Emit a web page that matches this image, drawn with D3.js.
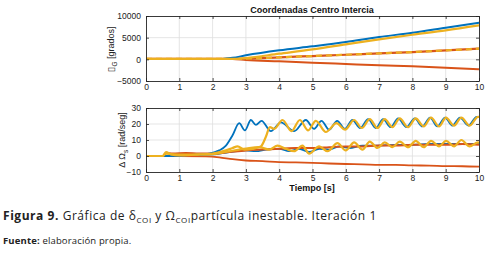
<!DOCTYPE html>
<html>
<head>
<meta charset="utf-8">
<script src="https://cdn.jsdelivr.net/npm/d3@7"></script>
<style>
  body { margin: 0; background: #fff; }
  svg { display: block; }
  .tick text { font-family: "Liberation Sans", Arial, sans-serif; font-size: 8.5px; fill: #222; }
</style>
</head>
<body>
<svg id="chart" width="491" height="265"></svg>
<script>
// time ticks shared by both panels
const timeTicks = [0, 1, 2, 3, 4, 5, 6, 7, 8, 9, 10];
const deltaTicks = [-5000, 0, 5000, 10000];
const omegaTicks = [-10, 0, 10, 20, 30];

// top panel: delta [grados], pairs of [t, value]
const deltaBlue = [[0, 100], [2.3, 100], [2.6, 350], [3, 920], [4, 2080], [5, 3000], [6, 3990], [7, 5150], [8, 6140], [9, 7300], [10, 8450]];
const deltaYellow = [[0, 100], [2.5, 100], [3, 300], [4, 1300], [5, 2300], [6, 3460], [7, 4610], [8, 5680], [9, 6690], [10, 7850]];
const deltaOrangeMid = [[0, 100], [2.6, 100], [3, 150], [4, 460], [5, 760], [6, 1060], [7, 1380], [8, 1680], [9, 2080], [10, 2450]];
const deltaRed = [[0, 100], [2.6, 100], [3, -160], [4, -460], [5, -780], [6, -1080], [7, -1380], [8, -1620], [9, -1940], [10, -2310]];

// bottom panel: delta omega [rad/seg]
const omegaBlueBig = [[0, 0], [0.5, 0], [1, 0.3], [1.5, 0.8], [1.9, 1.5], [2.2, 3.5], [2.4, 6.5], [2.6, 13], [2.8, 20.5], [2.97, 16], [3.15, 22.5], [3.3, 19.5], [3.47, 22], [3.75, 15.5], [4.05, 21], [4.45, 15.5], [4.8, 22.5], [5.05, 17], [5.27, 22], [5.5, 16.5], [5.74, 22], [5.97, 17], [6.2, 22.5], [6.43, 17.5], [6.67, 23], [6.9, 17.5], [7.12, 23], [7.35, 18], [7.57, 23.5], [7.82, 18], [8.07, 23.5], [8.3, 18.5], [8.53, 24], [8.75, 18.5], [8.98, 24], [9.2, 19], [9.43, 24], [9.68, 19], [9.93, 24.5], [10, 24.5]];
const omegaYellowBig = [[0, 0], [0.5, 0], [0.6, 2.5], [0.75, 1], [1, 0.3], [1.5, 0.8], [2, 1.5], [2.4, 3.5], [2.6, 5], [2.75, 6], [2.95, 4], [3.2, 4.5], [3.45, 6], [3.6, 12], [3.72, 18], [3.85, 17], [4.1, 22.5], [4.37, 15.5], [4.62, 22.5], [4.87, 16], [5.1, 22], [5.4, 15], [5.72, 20.5], [5.98, 16.5], [6.25, 22.5], [6.48, 17.5], [6.72, 23], [6.95, 17.5], [7.17, 23], [7.4, 18], [7.62, 23.5], [7.87, 18], [8.1, 23.5], [8.34, 18.5], [8.56, 24], [8.8, 18.5], [9.01, 24], [9.25, 19], [9.47, 24], [9.72, 19], [9.97, 24.5], [10, 24.5]];
const omegaBlueMid = [[0, 0], [0.5, 0], [1, 0.3], [1.5, 0.7], [2, 1], [2.5, 2.5], [3, 3.5], [3.3, 3], [3.6, 4], [4, 4.5], [4.3, 3], [4.6, 4.5], [4.9, 2.5], [5.2, 4.5], [5.5, 4], [5.8, 6], [6.1, 5], [6.5, 6.5], [7, 6.5], [7.5, 7], [8, 7], [8.5, 7.5], [9, 7.5], [9.5, 7.5], [10, 7.5]];
const omegaOrangeMid = [[0, 0], [0.55, 0], [0.6, 2], [0.8, 1.5], [1.2, 1.8], [1.6, 1.5], [2, 1.5], [2.5, 2.5], [3, 3.5], [3.5, 4], [4, 4.5], [4.5, 5], [5, 5], [5.5, 5.5], [6, 6], [6.5, 6], [7, 6.5], [7.5, 6.5], [8, 7], [8.5, 7], [9, 7], [9.5, 7.5], [10, 7]];
const omegaYellowMid = [[0, 0], [0.5, 0], [0.6, 1.5], [0.8, 1], [1.2, 0.8], [1.6, 1], [2, 1.2], [2.4, 2.5], [2.8, 4], [3.1, 5], [3.4, 5.5], [3.7, 4], [3.95, 6.5], [4.2, 4.5], [4.45, 3], [4.7, 6.5], [4.9, 1.5], [5.2, 6], [5.45, 3], [5.75, 8], [6, 3.5], [6.25, 8.5], [6.5, 4], [6.72, 9], [6.95, 5], [7.17, 8.5], [7.4, 5.5], [7.62, 9], [7.87, 5.5], [8.1, 9.5], [8.34, 5.5], [8.56, 9.5], [8.8, 6], [9.01, 9.5], [9.25, 6], [9.47, 10], [9.72, 6], [9.97, 8.5], [10, 8]];
const omegaRed = [[0, 0], [1, 0], [1.8, -0.2], [2.2, -0.8], [2.6, -2], [3, -2.8], [3.5, -3.2], [4, -3.8], [4.5, -4], [5, -4.3], [5.5, -4.7], [6, -5], [6.5, -5.2], [7, -5.5], [7.5, -5.6], [8, -5.9], [8.5, -6], [9, -6.3], [9.5, -6.4], [10, -6.7]];

const BLUE = "#0072BD", ORANGE = "#D95319", YELLOW = "#EDB120";
const FONT = "'Liberation Sans', Arial, sans-serif";

const svg = d3.select("#chart");
const left = 146, right = 479;

const x = d3.scaleLinear().domain([0, 10]).range([left, right]);

function panel(top, bottom, domain, yTicks, series) {
  const y = d3.scaleLinear().domain(domain).range([bottom, top]);
  const g = svg.append("g");

  // grid
  g.append("g").selectAll("line").data(timeTicks.slice(1, -1)).join("line")
    .attr("x1", (d) => x(d)).attr("x2", (d) => x(d))
    .attr("y1", top).attr("y2", bottom)
    .attr("stroke", "#dedede").attr("stroke-width", 0.8);
  g.append("g").selectAll("line").data(yTicks.slice(1, -1)).join("line")
    .attr("x1", left).attr("x2", right)
    .attr("y1", (d) => y(d)).attr("y2", (d) => y(d))
    .attr("stroke", "#dedede").attr("stroke-width", 0.8);

  // lines
  const line = d3.line().x((d) => x(d[0])).y((d) => y(d[1])).curve(d3.curveMonotoneX);
  series.forEach((s) => {
    g.append("path").datum(s.data)
      .attr("fill", "none")
      .attr("stroke", s.color)
      .attr("stroke-width", s.width)
      .attr("stroke-dasharray", s.dash || null)
      .attr("stroke-linejoin", "round")
      .attr("d", line);
  });

  // axes, ticks inward on all four sides
  g.append("g").attr("transform", `translate(0,${bottom})`)
    .call(d3.axisBottom(x).tickValues(timeTicks).tickSizeInner(-3).tickSizeOuter(0).tickPadding(3));
  g.append("g").attr("transform", `translate(0,${top})`)
    .call(d3.axisTop(x).tickValues(timeTicks).tickSizeInner(-3).tickSizeOuter(0).tickFormat(""));
  g.append("g").attr("transform", `translate(${left},0)`)
    .call(d3.axisLeft(y).tickValues(yTicks).tickFormat(d3.format("d"))
      .tickSizeInner(-3).tickSizeOuter(0).tickPadding(5));
  g.append("g").attr("transform", `translate(${right},0)`)
    .call(d3.axisRight(y).tickValues(yTicks).tickSizeInner(-3).tickSizeOuter(0).tickFormat(""));
  g.selectAll(".domain").attr("stroke", "#222").attr("stroke-width", 0.9);
  g.selectAll(".tick line").attr("stroke", "#222").attr("stroke-width", 0.8);
  return y;
}

panel(16, 81, [-5000, 10000], deltaTicks, [
  { data: deltaRed, color: ORANGE, width: 2 },
  { data: deltaOrangeMid, color: ORANGE, width: 2.2 },
  { data: deltaOrangeMid, color: YELLOW, width: 2.2, dash: "6 4" },
  { data: deltaBlue, color: BLUE, width: 2 },
  { data: deltaYellow, color: YELLOW, width: 2.2 }
]);

panel(108, 172, [-10, 30], omegaTicks, [
  { data: omegaRed, color: ORANGE, width: 1.8 },
  { data: omegaBlueMid, color: BLUE, width: 1.8 },
  { data: omegaOrangeMid, color: ORANGE, width: 2 },
  { data: omegaBlueBig, color: BLUE, width: 1.8 },
  { data: omegaYellowMid, color: YELLOW, width: 2.2 },
  { data: omegaYellowBig, color: YELLOW, width: 2.2 }
]);

// title and axis labels
svg.append("text").attr("x", 312).attr("y", 13)
  .attr("text-anchor", "middle").attr("font-family", FONT)
  .attr("font-size", 9).attr("font-weight", "bold").attr("fill", "#111")
  .text("Coordenadas Centro Intercia");

svg.append("text").attr("x", 312).attr("y", 191)
  .attr("text-anchor", "middle").attr("font-family", FONT)
  .attr("font-size", 9).attr("font-weight", "bold").attr("fill", "#111")
  .text("Tiempo [s]");

const yl1 = svg.append("text").attr("transform", "translate(114,49) rotate(-90)")
  .attr("text-anchor", "middle").attr("font-family", FONT)
  .attr("font-size", 9).attr("fill", "#222");
yl1.append("tspan").text("\u25AF");
yl1.append("tspan").attr("font-size", 6.5).attr("dy", 2.5).text("G");
yl1.append("tspan").attr("dy", -2.5).text(" [grados]");

const yl2 = svg.append("text").attr("transform", "translate(125,140) rotate(-90)")
  .attr("text-anchor", "middle").attr("font-family", FONT)
  .attr("font-size", 9).attr("fill", "#222");
yl2.append("tspan").text("\u0394 \u03A9");
yl2.append("tspan").attr("font-size", 6.5).attr("dy", 2.5).text("s");
yl2.append("tspan").attr("dy", -2.5).text(" [rad/seg]");

// caption
const CAP = "'Open Sans', sans-serif";
const cap = svg.append("text").attr("x", 3).attr("y", 220)
  .attr("font-family", CAP).attr("font-size", 12).attr("letter-spacing", 0.55).attr("fill", "#222");
cap.append("tspan").attr("font-weight", "bold").text("Figura 9.");
cap.append("tspan").text(" Gráfica de \u03B4");
cap.append("tspan").attr("font-size", 8).attr("dy", 2.5).text("COI");
cap.append("tspan").attr("dy", -2.5).text(" y \u03A9");
cap.append("tspan").attr("font-size", 8).attr("dy", 2.5).text("COI");
cap.append("tspan").attr("dy", -2.5).text("partícula inestable. Iteración 1");

const src = svg.append("text").attr("x", 3).attr("y", 244)
  .attr("font-family", CAP).attr("font-size", 9.5).attr("letter-spacing", 0.15).attr("fill", "#222");
src.append("tspan").attr("font-weight", "bold").text("Fuente:");
src.append("tspan").text(" elaboración propia.");
</script>
</body>
</html>
